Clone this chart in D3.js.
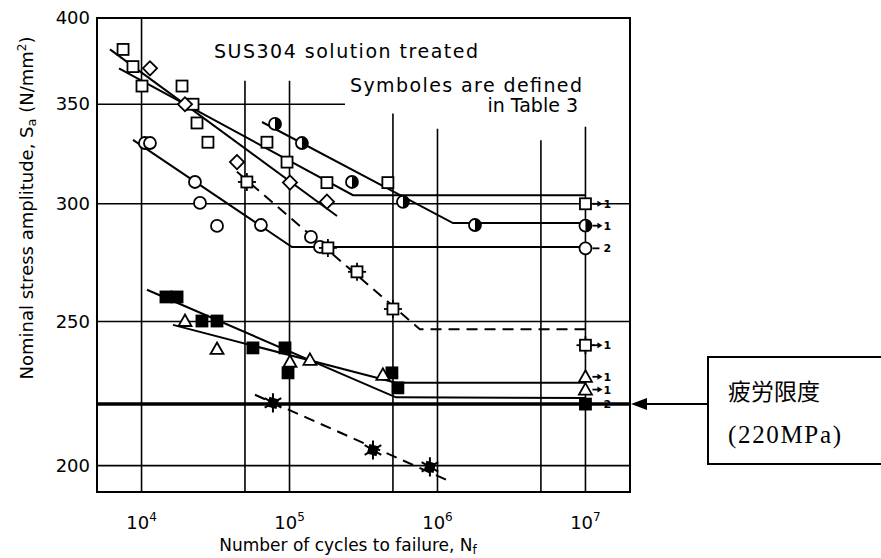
<!DOCTYPE html>
<html>
<head>
<meta charset="utf-8">
<script src="https://cdn.jsdelivr.net/npm/d3@7"></script>
<style>
  body { margin: 0; background: #fff; }
  text { font-family: "DejaVu Sans", sans-serif; fill: #000; }
</style>
</head>
<body>
<div id="chart"></div>
<script>
// axis ticks
const xTicks = [1e4, 1e5, 1e6, 1e7]
const yTicks = [200, 250, 300, 350, 400]
// grid lines: [N, S where the line starts at the top] (gap under the title text)
const vGrid = [[1e4, 400], [5e4, 363], [1e5, 363], [5e5, 345], [1e6, 337], [5e6, 331], [1e7, 338]]
const hGrid = [[200, 2e7], [250, 2e7], [300, 2e7], [350, 237000]]
const fatigueLimit = 220

// measured points [N, S]
const squareOpen = [[7500, 381], [8750, 371], [10070, 360], [18770, 360], [22270, 350], [23700, 340],
  [28100, 330], [70400, 330], [96200, 320], [179000, 310], [462000, 310]]
const diamond = [[11400, 370], [19660, 350], [44150, 320], [100700, 310], [179000, 301]]
const halfCircle = [[79800, 339.5], [121300, 329.6], [264300, 310.3], [584300, 300.9], [1792000, 290.3]]
const circle = [[10540, 329.6], [11400, 329.6], [22960, 310.3], [24830, 300.4], [32360, 289.9],
  [64100, 290.3], [139600, 285], [160700, 280.6]]
const squarePip = [[51500, 310.3], [181800, 280.2], [285800, 270], [500000, 254.9]]
const squareFill = [[14620, 259.7], [17380, 259.7], [25600, 250.2], [32360, 250.2], [56600, 240],
  [93200, 240], [97700, 230.9], [492000, 230.9], [540000, 225.6]]
const triangle = [[19660, 250.2], [32360, 239.6], [100700, 234.9], [137400, 235.6], [427600, 230.2]]
const starFill = [[77300, 220.4], [366400, 204.9], [889000, 199.6]]

// run-outs at 10^7: [N, S, symbol, count]
const runouts = [[1e7, 300, "square", "1"], [1e7, 290, "half", "1"], [1e7, 280, "circle", "2"],
  [1e7, 241, "pip", "1"], [1e7, 229.5, "triangle", "1"], [1e7, 225, "triangle", "1"], [1e7, 220, "fill", "2"]]

// S-N curves
const curves = [
  { pts: [[7040, 370], [268500, 304], [1e7, 304]], dash: false },
  { pts: [[6120, 381], [209400, 294.4]], dash: false },
  { pts: [[65100, 340.5], [1273000, 291.2], [1e7, 291.2]], dash: false },
  { pts: [[8750, 331.2], [103900, 280.6], [1e7, 280.6]], dash: false },
  { pts: [[44150, 315.2], [760000, 247], [1e7, 247]], dash: true },
  { pts: [[10880, 262.6], [523600, 222.3], [1e7, 222.1]], dash: false },
  { pts: [[16320, 248.7], [523600, 227.4], [1e7, 227.4]], dash: false },
  { pts: [[58400, 223.2], [1159000, 195.6]], dash: true }
]

const W = 881, H = 558
const x = d3.scaleLog().domain([5e3, 2e7]).range([97, 630])
const y = d3.scaleLog().domain([192, 400]).range([492, 18])

const svg = d3.select("#chart").append("svg")
  .attr("width", W).attr("height", H)

// grid
svg.append("g").selectAll("line").data(vGrid).join("line")
  .attr("x1", d => x(d[0])).attr("x2", d => x(d[0]))
  .attr("y1", d => y(d[1])).attr("y2", y(192))
  .attr("stroke", "#000").attr("stroke-width", 1.6)
svg.append("g").selectAll("line").data(hGrid).join("line")
  .attr("x1", x(5e3)).attr("x2", d => x(d[1]))
  .attr("y1", d => y(d[0])).attr("y2", d => y(d[0]))
  .attr("stroke", "#000").attr("stroke-width", 1.6)

// fatigue limit
svg.append("line")
  .attr("x1", x(5e3)).attr("x2", x(2e7))
  .attr("y1", y(fatigueLimit)).attr("y2", y(fatigueLimit))
  .attr("stroke", "#000").attr("stroke-width", 3.5)

// frame
svg.append("rect")
  .attr("x", x(5e3)).attr("y", y(400))
  .attr("width", x(2e7) - x(5e3)).attr("height", y(192) - y(400))
  .attr("fill", "none").attr("stroke", "#000").attr("stroke-width", 2)

// curves
const line = d3.line().x(d => x(d[0])).y(d => y(d[1]))
svg.append("g").selectAll("path").data(curves).join("path")
  .attr("d", d => line(d.pts))
  .attr("fill", "none").attr("stroke", "#000").attr("stroke-width", 2)
  .attr("stroke-dasharray", d => d.dash ? "11,7" : null)

// markers
function marker(g, type, cx, cy) {
  const m = g.append("g").attr("transform", `translate(${cx},${cy})`)
  if (type == "square" || type == "pip" || type == "fill") {
    if (type == "pip") {
      m.append("line").attr("x1", -9).attr("x2", 9).attr("stroke", "#000").attr("stroke-width", 1.8)
      m.append("line").attr("y1", -9).attr("y2", 9).attr("stroke", "#000").attr("stroke-width", 1.8)
    }
    m.append("rect").attr("x", -5.5).attr("y", -5.5).attr("width", 11).attr("height", 11)
      .attr("fill", type == "fill" ? "#000" : "#fff").attr("stroke", "#000").attr("stroke-width", 1.8)
  } else if (type == "diamond") {
    m.append("rect").attr("x", -5).attr("y", -5).attr("width", 10).attr("height", 10)
      .attr("transform", "rotate(45)")
      .attr("fill", "#fff").attr("stroke", "#000").attr("stroke-width", 1.8)
  } else if (type == "circle" || type == "half") {
    m.append("circle").attr("r", 6)
      .attr("fill", "#fff").attr("stroke", "#000").attr("stroke-width", 1.8)
    if (type == "half") {
      m.append("path").attr("d", d3.arc()({ innerRadius: 0, outerRadius: 6, startAngle: 0, endAngle: Math.PI }))
        .attr("fill", "#000")
    }
  } else if (type == "triangle") {
    m.append("path").attr("d", "M0,-6.5L6.5,5L-6.5,5Z")
      .attr("fill", "#fff").attr("stroke", "#000").attr("stroke-width", 1.8)
  } else if (type == "star") {
    m.append("path").attr("d", d3.symbol(d3.symbolAsterisk, 260)())
      .attr("stroke", "#000").attr("stroke-width", 2)
    m.append("rect").attr("x", -5).attr("y", -5).attr("width", 10).attr("height", 10)
      .attr("fill", "#000").attr("transform", "rotate(15)")
  }
}

const mg = svg.append("g")
const sets = [[squareOpen, "square"], [diamond, "diamond"], [halfCircle, "half"], [circle, "circle"],
  [squarePip, "pip"], [squareFill, "fill"], [triangle, "triangle"], [starFill, "star"]]
sets.forEach(([pts, type]) => pts.forEach(p => marker(mg, type, x(p[0]), y(p[1]))))

// run-outs with arrows
runouts.forEach(r => {
  const cx = x(r[0]), cy = y(r[1])
  marker(mg, r[2], cx, cy)
  if (r[3] == "1") {
    mg.append("line").attr("x1", cx + 7).attr("x2", cx + 13).attr("y1", cy).attr("y2", cy)
      .attr("stroke", "#000").attr("stroke-width", 1.8)
    mg.append("path").attr("d", `M${cx + 17},${cy}L${cx + 12},${cy - 3}L${cx + 12},${cy + 3}Z`).attr("fill", "#000")
  } else {
    mg.append("line").attr("x1", cx + 7).attr("x2", cx + 14).attr("y1", cy).attr("y2", cy)
      .attr("stroke", "#000").attr("stroke-width", 1.8)
  }
  mg.append("text").attr("x", cx + 18).attr("y", cy + 4)
    .attr("font-size", 11).attr("font-weight", "bold").text(r[3])
})

// tick labels
svg.append("g").selectAll("text").data(yTicks).join("text")
  .attr("x", 90).attr("y", d => y(d) + 6)
  .attr("text-anchor", "end").attr("font-size", 18)
  .text(d => d)
const xt = svg.append("g").selectAll("text").data(xTicks).join("text")
  .attr("x", d => x(d)).attr("y", 529)
  .attr("text-anchor", "middle").attr("font-size", 18)
xt.append("tspan").text("10")
xt.append("tspan").attr("dy", -8).attr("font-size", 12).text(d => Math.round(Math.log10(d)))

// axis titles
const xTitle = svg.append("text").attr("x", 348).attr("y", 551)
  .attr("text-anchor", "middle").attr("font-size", 17)
xTitle.append("tspan").text("Number of cycles to failure, N")
xTitle.append("tspan").attr("dy", 3).attr("font-size", 12).text("f")

const yTitle = svg.append("text")
  .attr("transform", "translate(33,208) rotate(-90)")
  .attr("text-anchor", "middle").attr("font-size", 18)
yTitle.append("tspan").text("Nominal stress amplitude, S")
yTitle.append("tspan").attr("dy", 3).attr("font-size", 13).text("a")
yTitle.append("tspan").attr("dy", -3).text(" (N/mm")
yTitle.append("tspan").attr("dy", -7).attr("font-size", 12).text("2")
yTitle.append("tspan").attr("dy", 7).text(")")

// in-plot notes
svg.append("text").attr("x", 214).attr("y", 58).attr("font-size", 19)
  .attr("textLength", 264).text("SUS304 solution treated")
svg.append("text").attr("x", 350).attr("y", 92).attr("font-size", 19)
  .attr("textLength", 232).text("Symboles are defined")
svg.append("text").attr("x", 578).attr("y", 112).attr("font-size", 19)
  .attr("text-anchor", "end").text("in Table 3")

// annotation box + arrow
const yl = y(fatigueLimit)
svg.append("line").attr("x1", 708).attr("x2", 640).attr("y1", yl).attr("y2", yl)
  .attr("stroke", "#000").attr("stroke-width", 2)
svg.append("path").attr("d", `M${631},${yl}L${647},${yl - 6}L${647},${yl + 6}Z`).attr("fill", "#000")
svg.append("rect").attr("x", 708).attr("y", 357).attr("width", 200).attr("height", 107)
  .attr("fill", "#fff").attr("stroke", "#000").attr("stroke-width", 2)
svg.append("text").attr("x", 728).attr("y", 400)
  .attr("font-size", 23).style("font-family", "'Noto Sans CJK JP', sans-serif")
  .text("疲労限度")
svg.append("text").attr("x", 728).attr("y", 443)
  .attr("font-size", 25).attr("textLength", 113)
  .style("font-family", "'Liberation Serif', 'DejaVu Serif', serif")
  .text("(220MPa)")
</script>
</body>
</html>
